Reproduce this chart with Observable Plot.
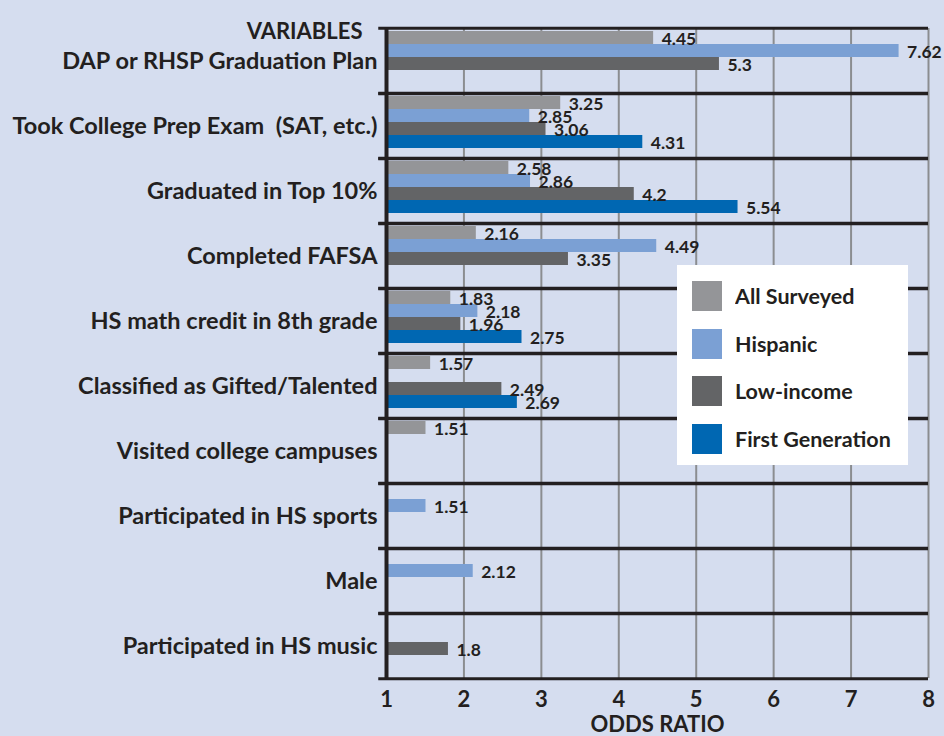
<!DOCTYPE html>
<html>
<head>
<meta charset="utf-8">
<script src="https://cdn.jsdelivr.net/npm/d3@7"></script>
<script src="https://cdn.jsdelivr.net/npm/@observablehq/plot@0.6"></script>
<style>
  html, body { margin: 0; padding: 0; background: #d5ddef; }
  #wrap { position: relative; width: 944px; height: 736px; overflow: hidden; color: #231f20; font-family: Lato, sans-serif; }
  #legend { position: absolute; left: 677px; top: 265px; width: 231px; height: 200px; background: #ffffff; box-sizing: border-box; padding: 16px 0 0 15px; color: #231f20; }
  #legend > div { font-family: Lato, sans-serif !important; font-weight: bold !important; font-size: 21.5px !important; margin: 0 !important; columns: auto !important; display: block !important; }
  #legend > div > div, #legend > div > span { display: flex !important; align-items: center !important; height: 30px !important; margin: 0 0 17.5px 0 !important; padding: 0 !important; white-space: nowrap; }
  #legend svg { width: 30px !important; height: 30px !important; margin-right: 13px !important; flex-shrink: 0; }
  [aria-label^="x-axis"], [aria-label^="x-axis"] text { font-size: 22px !important; }
</style>
</head>
<body>
<div id="wrap"><div id="legend"></div></div>
<script>
// ---- data ----
const categories = [
  "DAP or RHSP Graduation Plan",
  "Took College Prep Exam  (SAT, etc.)",
  "Graduated in Top 10%",
  "Completed FAFSA",
  "HS math credit in 8th grade",
  "Classified as Gifted/Talented",
  "Visited college campuses",
  "Participated in HS sports",
  "Male",
  "Participated in HS music"
];
const series = ["All Surveyed", "Hispanic", "Low-income", "First Generation"];
const allSurveyed = [4.45, 3.25, 2.58, 2.16, 1.83, 1.57, 1.51, null, null, null];
const hispanic    = [7.62, 2.85, 2.86, 4.49, 2.18, null, null, 1.51, 2.12, null];
const lowIncome   = [5.3, 3.06, 4.2, 3.35, 1.96, 2.49, null, null, null, 1.8];
const firstGen    = [null, 4.31, 5.54, null, 2.75, 2.69, null, null, null, null];
const xTicks = [1, 2, 3, 4, 5, 6, 7, 8];
const baseline = 1;
const colors = ["#949598", "#7ba0d4", "#636466", "#0067b2"];

// ---- table built from the arrays ----
const seriesValues = [allSurveyed, hispanic, lowIncome, firstGen];
const rows = [];
categories.forEach((c, i) => {
  series.forEach((s, j) => {
    const v = seriesValues[j][i];
    if (v != null) rows.push({category: c, series: s, value: v});
  });
});

// ---- layout ----
const W = 944, H = 736;
const mTop = 25, mBottom = 56, mLeft = 386, mRight = 16;
const band = (H - mTop - mBottom) / categories.length;
const ink = "#231f20";

const chart = Plot.plot({
  width: W,
  height: H,
  marginTop: mTop,
  marginBottom: mBottom,
  marginLeft: mLeft,
  marginRight: mRight,
  style: "background: transparent; font-family: Lato, sans-serif; font-weight: bold; font-size: 23.5px; color: #231f20; overflow: visible;",
  facet: {data: rows, y: "category"},
  fy: {domain: categories, padding: 0, axis: "left", label: null, tickSize: 0, tickPadding: 9},
  y: {domain: series, axis: null, paddingInner: 0, paddingOuter: 0.34, align: 0.21},
  x: {domain: [1, 8], ticks: xTicks, tickFormat: d => String(d), tickSize: 0, tickPadding: 13, label: "ODDS RATIO", labelArrow: "none", labelAnchor: "center", labelOffset: 53},
  color: {domain: series, range: colors},
  marks: [
    Plot.ruleX(xTicks.slice(1), {stroke: "#8b8d90", strokeWidth: 2}),
    Plot.barX(rows, {x1: () => baseline, x2: "value", y: "series", fill: "series"}),
    Plot.text(rows, {x: "value", y: "series", text: d => String(d.value), textAnchor: "start", dx: 8, dy: 1, fontSize: 17.5, fontWeight: "bold", fill: ink}),
    Plot.ruleY([null], {y: null, x1: () => 0.9, x2: () => 8, dy: -band / 2, stroke: ink, strokeWidth: 3}),
    Plot.ruleY([null], {y: null, x1: () => 0.9, x2: () => 8, dy: band / 2, stroke: ink, strokeWidth: 3}),
    Plot.ruleX([baseline], {stroke: ink, strokeWidth: 4}),
    Plot.text(rows, {filter: (d, i) => i === 0, text: () => "VARIABLES", frameAnchor: "top-left", textAnchor: "end", dx: -24, dy: -5, fontSize: 22, fontWeight: "bold", fill: ink})
  ]
});
document.getElementById("wrap").prepend(chart);

const legend = Plot.legend({
  color: {domain: series, range: colors},
  legend: "swatches",
  swatchSize: 30,
  columns: 1
});
document.getElementById("legend").appendChild(legend);
</script>
</body>
</html>
